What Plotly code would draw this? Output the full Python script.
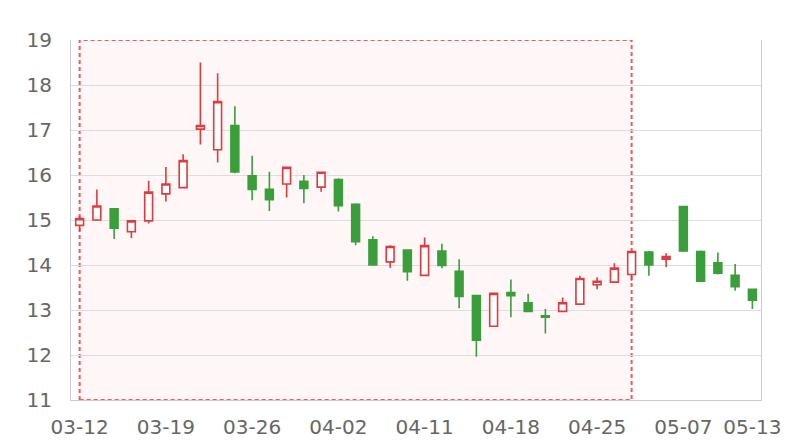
import plotly.graph_objects as go

dates = ["03-12", "03-13", "03-14", "03-15", "03-16", "03-19", "03-20", "03-21", "03-22", "03-23",
         "03-26", "03-27", "03-28", "03-29", "03-30", "04-02", "04-03", "04-04", "04-09", "04-10",
         "04-11", "04-12", "04-13", "04-16", "04-17", "04-18", "04-19", "04-20", "04-23", "04-24",
         "04-25", "04-26", "04-27", "05-02", "05-03", "05-07", "05-08", "05-09", "05-10", "05-13"]

open_ = [14.88, 15.00, 15.25, 14.74, 14.98, 15.58, 15.72, 17.02, 16.56, 17.10,
         15.98, 15.68, 15.80, 15.86, 15.73, 15.90, 15.35, 14.56, 14.07, 14.33,
         13.77, 14.31, 13.86, 13.32, 12.64, 13.39, 13.16, 12.87, 12.97, 13.13,
         13.56, 13.62, 13.79, 14.29, 14.13, 15.30, 14.30, 14.05, 13.77, 13.46]
close = [15.03, 15.31, 14.82, 14.98, 15.62, 15.80, 16.32, 17.10, 17.63, 16.07,
         15.68, 15.45, 16.17, 15.70, 16.06, 15.32, 14.52, 14.00, 14.41, 13.85,
         14.43, 13.99, 13.30, 12.33, 13.37, 13.32, 12.97, 12.84, 13.16, 13.70,
         13.64, 13.93, 14.30, 14.00, 14.19, 14.31, 13.64, 13.82, 13.52, 13.22]
high = [15.09, 15.68, 15.26, 14.99, 15.87, 16.18, 16.46, 18.50, 18.26, 17.53,
        16.43, 16.07, 16.18, 16.00, 16.08, 15.93, 15.37, 14.64, 14.44, 14.34,
        14.61, 14.47, 14.13, 13.33, 13.39, 13.68, 13.36, 13.02, 13.28, 13.76,
        13.73, 14.04, 14.33, 14.31, 14.26, 15.31, 14.32, 14.28, 14.02, 13.47]
low = [14.75, 14.98, 14.58, 14.60, 14.92, 15.41, 15.71, 16.68, 16.28, 16.04,
       15.44, 15.20, 15.50, 15.37, 15.63, 15.19, 14.44, 13.99, 13.94, 13.65,
       13.76, 13.93, 13.04, 11.96, 12.63, 12.84, 12.95, 12.48, 12.96, 13.12,
       13.46, 13.61, 13.65, 13.76, 13.95, 14.29, 13.63, 13.79, 13.43, 13.02]

tick_labels = ["03-12", "03-19", "03-26", "04-02", "04-11", "04-18", "04-25", "05-07", "05-13"]
y_ticks = [11, 12, 13, 14, 15, 16, 17, 18, 19]
area_start = "03-12"
area_end = "04-27"

RED = "#e23a3a"
GREEN = "#3a9e3a"

fig = go.Figure()
fig.add_trace(go.Candlestick(
    x=dates, open=open_, high=high, low=low, close=close,
    increasing=dict(line=dict(color=RED, width=1.6), fillcolor="white"),
    decreasing=dict(line=dict(color=GREEN, width=1.6), fillcolor=GREEN),
    whiskerwidth=0, hoverinfo="skip", showlegend=False,
))

fig.add_shape(type="rect", xref="x", yref="y",
              x0=dates.index(area_start), x1=dates.index(area_end),
              y0=y_ticks[0], y1=y_ticks[-1],
              fillcolor="rgba(255,0,0,0.03)",
              line=dict(color="#ef5a5a", width=2, dash="4px,3px"),
              layer="below")

fig.update_layout(
    width=800, height=440,
    margin=dict(l=71, r=39, t=40, b=40),
    paper_bgcolor="white", plot_bgcolor="white",
    boxgap=0.35,
    font=dict(family="DejaVu Sans", size=20, color="#666666"),
    xaxis=dict(type="category", categoryorder="array", categoryarray=dates,
               range=[-0.5, len(dates) - 0.5], automargin=False,
               tickmode="array", tickvals=tick_labels, ticktext=tick_labels,
               showgrid=False, showline=True, linecolor="#cccccc", linewidth=1,
               ticks="", rangeslider=dict(visible=False),
               tickfont=dict(size=20, color="#666666"), ticklabelstandoff=9),
    yaxis=dict(range=[y_ticks[0], y_ticks[-1]], tickmode="array", tickvals=y_ticks,
               automargin=False,
               showgrid=True, gridcolor="#dddddd", gridwidth=1,
               showline=True, mirror=True, linecolor="#cccccc", linewidth=1,
               zeroline=False, ticks="", ticklabelstandoff=14,
               tickfont=dict(size=20, color="#666666")),
)

fig.write_html("out.html", config={"displayModeBar": False},
               post_script="document.body.style.margin='0';")
